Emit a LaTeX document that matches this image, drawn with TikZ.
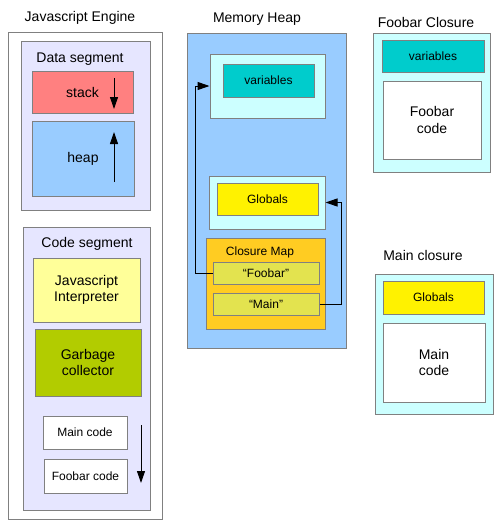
\documentclass[tikz,border=0pt]{standalone}
\usepackage{fontspec}
\setmainfont{Liberation Sans}
\usetikzlibrary{arrows.meta}
\definecolor{segfill}{HTML}{E6E6FF}
\definecolor{stackred}{HTML}{FF8080}
\definecolor{heapblue}{HTML}{99CCFF}
\definecolor{interpyellow}{HTML}{FFFF99}
\definecolor{gcgreen}{HTML}{B2CC00}
\definecolor{closurecyan}{HTML}{CCFFFF}
\definecolor{varteal}{HTML}{00CCCC}
\definecolor{mapgold}{HTML}{FFCC22}
\definecolor{entrylime}{HTML}{E3E34F}

\begin{document}
\begin{tikzpicture}[x=1pt,y=-1pt,font=\fontsize{14}{16.5}\selectfont,
  box/.style={draw=black!50,line width=1pt,inner sep=0pt,align=center},
  small/.style={font=\fontsize{12}{14}\selectfont},
  arr/.style={-{Triangle[length=12pt,width=8pt]},line width=1pt}]
\useasboundingbox (0,0) rectangle (501,528);
\node (engtitle) at (80,18) {Javascript Engine};
\node[box,fill=white,minimum width=154,minimum height=487] (engine) at (85,275.5) {};
\node[box,fill=segfill,minimum width=129,minimum height=169] (dataseg) at (85.5,125.5) {};
\node (datatitle) at (80,59) {Data segment};
\node[box,fill=stackred,minimum width=101,minimum height=42] (stack) at (82.5,92) {stack};
\node[box,fill=heapblue,minimum width=102,minimum height=75] (heap) at (83,158.5) {heap};
\coordinate (stacktail) at (114,78);
\coordinate (stacktip) at (114,109);
\draw[arr] (stacktail) -- (stacktip);
\coordinate (heaptail) at (114,182);
\coordinate (heaptip) at (114,132);
\draw[arr] (heaptail) -- (heaptip);
\node[box,fill=segfill,minimum width=127,minimum height=283] (codeseg) at (86.5,368.5) {};
\node (codetitle) at (87,244) {Code segment};
\node[box,fill=interpyellow,minimum width=107,minimum height=64] (interp) at (86.5,290) {Javascript\\Interpreter};
\node[box,fill=gcgreen,minimum width=106,minimum height=67] (gc) at (88,362.5) {Garbage\\collector};
\node[box,small,fill=white,minimum width=84,minimum height=33] (maincode) at (85,432.5) {Main code};
\node[box,small,fill=white,minimum width=83,minimum height=34] (foocode) at (85.5,476) {Foobar code};
\coordinate (codetail) at (141,425);
\coordinate (codetip) at (141,483);
\draw[arr] (codetail) -- (codetip);

\node (heaptitle) at (257,19) {Memory Heap};
\node[box,fill=heapblue,minimum width=159,minimum height=315] (memheap) at (266.5,190.5) {};
\node[box,fill=closurecyan,minimum width=115,minimum height=64] (varwrap) at (267.5,86) {};
\node[box,small,fill=varteal,minimum width=91,minimum height=33] (heapvars) at (268.5,80.5) {variables};
\node[box,fill=closurecyan,minimum width=116,minimum height=53] (globwrap) at (267,202.5) {};
\node[box,small,fill=yellow,minimum width=101,minimum height=32] (heapglobs) at (267.5,199) {Globals};
\node[box,fill=mapgold,minimum width=119,minimum height=91] (closmap) at (265.5,283.5) {};
\node[small] (maptitle) at (260,252) {Closure Map};
\node[box,small,fill=entrylime,minimum width=106,minimum height=22] (fooentry) at (266,273) {“Foobar”};
\node[box,small,fill=entrylime,minimum width=106,minimum height=22] (mainentry) at (266,304) {“Main”};
\draw[arr] (fooentry.west) -- ++(-17,0) |- (varwrap.west);
\draw[arr] (mainentry.east) -- ++(22,0) |- (globwrap.east);

\node (footitle) at (426,22) {Foobar Closure};
\node[box,fill=closurecyan,minimum width=117,minimum height=139] (fooclos) at (431.5,102.5) {};
\node[box,small,fill=varteal,minimum width=102,minimum height=32] (foovars) at (433,56) {variables};
\node[box,fill=white,minimum width=98,minimum height=78] (foobody) at (432,120) {Foobar\\code};

\node (maintitle) at (423,255) {Main closure};
\node[box,fill=closurecyan,minimum width=118,minimum height=140] (mainclos) at (434,344) {};
\node[box,small,fill=yellow,minimum width=101,minimum height=33] (mainglobs) at (433.5,297.5) {Globals};
\node[box,fill=white,minimum width=102,minimum height=79] (mainbody) at (434,362.5) {Main\\code};
\end{tikzpicture}
\end{document}
